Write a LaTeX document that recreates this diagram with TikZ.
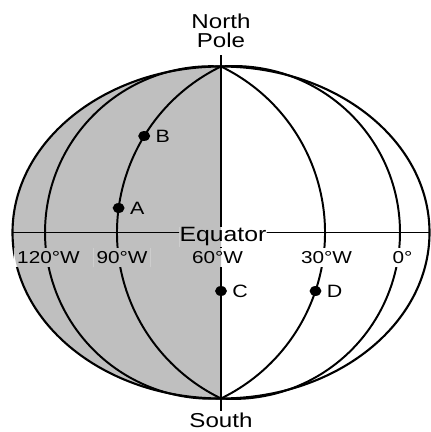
\documentclass[tikz,border=0pt]{standalone}
\usepackage{fontspec}
\setmainfont{Liberation Sans}[FakeStretch=1.2]
\usepackage{xcolor}
\usetikzlibrary{positioning,backgrounds,shapes.geometric}
\definecolor{hemigray}{gray}{0.75}

\begin{document}
\begin{tikzpicture}[x=0.025cm,y=0.025cm,
  rim/.style={line width=1.5pt},
  meridian/.style={line width=1.4pt},
  axis/.style={line width=1.1pt},
  dot/.style={ellipse,fill=black,inner sep=0pt,minimum width=8.5pt,minimum height=7pt},
  ptlabel/.style={inner sep=0.5pt,font=\fontsize{12.7}{14}\selectfont},
  lonlabel/.style={anchor=base,inner sep=2pt,font=\fontsize{12.3}{14}\selectfont}]
\useasboundingbox (-221,-199.5) rectangle (209,232.5);
% poles and ends of the axes
\coordinate (N) at (0,166);
\coordinate (S) at (0,-166);
\coordinate (axtop) at (0,177);
\coordinate (axbot) at (0,-178);
\coordinate (W) at (-208.5,0);
\coordinate (E) at (208.5,0);
% pole and equator names
\node[anchor=south,align=center,inner sep=0pt,font=\fontsize{14.3}{13.2}\selectfont] (pole) at (0,184.5) {North\\Pole};
\node[anchor=base,inner sep=0pt,font=\fontsize{14.3}{17}\selectfont] (south) at (0,-195) {South};
\node[anchor=base,inner sep=0pt,font=\fontsize{14.7}{17}\selectfont] (eq) at (2,-9.5) {Equator};
% longitudes
\node[lonlabel] (lon120) at (-172.5,-31) {120°W};
\node[lonlabel] (lon90) at (-99,-31) {90°W};
\node[lonlabel] (lon60) at (-3.5,-31) {60°W};
\node[lonlabel] (lon30) at (105.5,-31) {30°W};
\node[lonlabel] (lon0) at (181.5,-31) {0°};
% points
\node[dot] (B) at (-76.8,96.5) {};
\node[ptlabel,right=3pt of B] (labB) {B};
\node[dot] (A) at (-102.4,24.5) {};
\node[ptlabel,right=3pt of A] (labA) {A};
\node[dot] (C) at (0,-58.5) {};
\node[ptlabel,right=3pt of C] (labC) {C};
\node[dot] (D) at (94.5,-58.5) {};
\node[ptlabel,right=3pt of D] (labD) {D};
\begin{pgfonlayer}{background}
% western half shaded
\fill[hemigray] (S) arc[start angle=270,end angle=90,x radius=208.5,y radius=166] -- cycle;
% outline
\draw[rim] (0,0) ellipse [x radius=208.5,y radius=166];
% meridians west of 60W
\draw[meridian] (N) arc[start angle=86.65,end angle=273.35,radius=166.28]; % 120W
\draw[meridian] (N) arc[start angle=115.87,end angle=244.13,radius=184.48]; % 90W
% meridians east of 60W
\draw[meridian] (N) arc[start angle=64.13,end angle=-64.13,radius=184.48]; % 30W
\draw[meridian] (N) arc[start angle=94.32,end angle=-94.32,radius=166.47]; % 0
% axes
\draw[axis] (axtop) -- (axbot);
\draw[axis] (W) -- (E);
% clear the lines under each label
\foreach \lab in {eq,lon120,lon90,lon60,lon30,lon0} {
  \begin{scope}
    \clip (\lab.south west) rectangle (\lab.north east);
    \fill[white] (\lab.south west) rectangle (\lab.north east);
    \fill[hemigray] (S) arc[start angle=270,end angle=90,x radius=208.5,y radius=166] -- cycle;
  \end{scope}
}
\end{pgfonlayer}
\end{tikzpicture}
\end{document}
